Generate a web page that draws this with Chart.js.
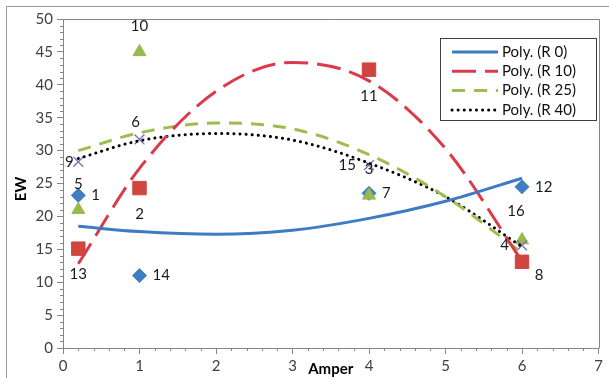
<!DOCTYPE html>
<html>
<head>
<meta charset="utf-8">
<script src="https://cdn.jsdelivr.net/npm/chart.js@4.4.1/dist/chart.umd.min.js"></script>
<style>
  html, body { margin: 0; padding: 0; background: #fff; }
  #wrap { position: relative; width: 609px; height: 378px; overflow: hidden; }
  #frame { position: absolute; left: 6px; top: 6px; width: 620px; height: 400px; border: 1px solid #9a9a9a; }
  canvas { position: absolute; left: 0; top: 0; }
</style>
</head>
<body>
<div id="wrap">
  <div id="frame"></div>
  <canvas id="chart" width="609" height="378"></canvas>
</div>
<script>
// Measured points (x = Amper, y = EW)
const xValues  = [0.2, 1, 4, 6];
const r0Values  = [23.2, 11.0, 23.5, 24.5];
const r10Values = [15.1, 24.3, 42.3, 13.1];
const r25Values = [21.0, 45.0, 23.2, 16.4];
const r40Values = [28.3, 31.7, 27.8, 15.6];

// Sample numbers shown next to each point
const r0Labels  = ['1', '14', '7', '12'];
const r10Labels = ['13', '2', '11', '8'];
const r25Labels = ['5', '10', '3', '16'];
const r40Labels = ['9', '6', '15', '4'];

// Polynomial trend lines
const trendX   = [0.2, 1, 2, 3, 4, 5, 6];
const trendR0  = [18.5, 17.7, 17.3, 17.9, 19.7, 22.3, 25.8];
const trendR10 = [12.8, 27.3, 39.0, 43.4, 40.6, 30.3, 13.2];
const trendR25 = [30.0, 32.7, 34.2, 33.3, 29.4, 23.0, 14.5];
const trendR40 = [28.8, 31.5, 32.6, 31.6, 28.1, 23.0, 15.4];

const legendNames = ['Poly. (R 0)', 'Poly. (R 10)', 'Poly. (R 25)', 'Poly. (R 40)'];

const FONT = 'Lato, "Liberation Sans", sans-serif';
const AXIS = '#868686';

const toPts = (xs, ys) => xs.map((x, i) => ({ x, y: ys[i] }));

function trend(label, ys, color, dash, cap) {
  return {
    type: 'line', label, data: toPts(trendX, ys),
    borderColor: color, borderWidth: 3, borderDash: dash, borderCapStyle: cap || 'butt',
    pointRadius: 0, fill: false, cubicInterpolationMode: 'monotone', order: 1,
  };
}

// later series sit on top of earlier ones, like in Excel (lower order = drawn last)
function marks(ys, labels, style, color, radius, place, order) {
  return {
    type: 'scatter', data: toPts(xValues, ys), sampleLabels: labels, labelPlace: place,
    pointStyle: style, pointRadius: radius, pointBackgroundColor: color,
    pointBorderColor: color, pointBorderWidth: style === 'crossRot' ? 1.3 : 1, order,
  };
}

// a few labels that were nudged by hand in the original
const labelOverride = { '6': 'above', '8': 'belowRight', '16': 'aboveLeft' };

const extrasPlugin = {
  id: 'extras',
  afterDraw(chart) {
    const { ctx, chartArea: a, scales: { x, y } } = chart;
    ctx.save();

    // plot frame (top/right) and minor ticks
    ctx.strokeStyle = AXIS; ctx.lineWidth = 1;
    ctx.beginPath();
    ctx.moveTo(Math.round(a.left) + 0.5, Math.round(a.top) + 0.5);
    ctx.lineTo(Math.round(a.right) + 0.5, Math.round(a.top) + 0.5);
    ctx.lineTo(Math.round(a.right) + 0.5, Math.round(a.bottom) + 0.5);
    for (let v = 1; v < 50; v++) {
      if (v % 5 === 0) continue;
      const py = Math.round(y.getPixelForValue(v)) + 0.5;
      ctx.moveTo(a.left - 3, py); ctx.lineTo(a.left, py);
    }
    for (let i = 1; i < 35; i++) {
      if (i % 5 === 0) continue;
      const px = Math.round(x.getPixelForValue(i / 5)) + 0.5;
      ctx.moveTo(px, a.bottom); ctx.lineTo(px, a.bottom + 3);
    }
    ctx.stroke();

    // sample labels
    ctx.fillStyle = '#1a1a1a';
    ctx.font = '15px ' + FONT;
    ctx.textBaseline = 'middle';
    chart.data.datasets.forEach((ds, di) => {
      if (!ds.sampleLabels) return;
      chart.getDatasetMeta(di).data.forEach((pt, i) => {
        const txt = ds.sampleLabels[i];
        const place = labelOverride[txt] || ds.labelPlace;
        const w = ctx.measureText(txt).width;
        let cx = pt.x, cy = pt.y;
        if (place === 'right') cx += 13 + w / 2;
        if (place === 'left') cx -= 13 + w / 2;
        if (place === 'below') cy += 26;
        if (place === 'above') cy -= 26;
        if (place === 'belowRight') { cx += 17; cy += 13; }
        if (place === 'aboveLeft') { cx -= 6; cy -= 29; }
        if (place === 'above' && ds.pointStyle === 'crossRot') { cx -= 4; cy += 9; }
        cx = Math.max(cx, a.left + 2 + w / 2);
        ctx.textAlign = 'center';
        ctx.fillText(txt, cx, cy);
      });
    });

    // axis titles
    ctx.font = 'bold 15px ' + FONT;
    ctx.fillStyle = '#000';
    ctx.textAlign = 'center';
    ctx.fillText('Amper', (a.left + a.right) / 2, 369);
    ctx.save();
    ctx.translate(21, 189);
    ctx.rotate(-Math.PI / 2);
    ctx.fillText('EW', 0, 0);
    ctx.restore();

    // legend box
    const lx = 440, ly = 38, lw = 156, lh = 82;
    ctx.fillStyle = '#fff';
    ctx.fillRect(lx, ly, lw, lh);
    ctx.strokeStyle = '#404040';
    ctx.strokeRect(lx + 0.5, ly + 0.5, lw, lh);
    const trends = chart.data.datasets.filter(d => d.type === 'line');
    ctx.font = '15px ' + FONT;
    ctx.textAlign = 'left';
    trends.forEach((d, i) => {
      const ry = 52 + i * 19.3;
      ctx.beginPath();
      ctx.strokeStyle = d.borderColor;
      ctx.lineWidth = 3;
      ctx.lineCap = d.borderCapStyle;
      ctx.setLineDash(d.borderDash);
      ctx.moveTo(452, ry); ctx.lineTo(498, ry);
      ctx.stroke();
      ctx.setLineDash([]);
      ctx.fillStyle = '#111';
      ctx.fillText(legendNames[i], 502, ry);
    });
    ctx.restore();
  }
};

new Chart(document.getElementById('chart'), {
  data: {
    datasets: [
      trend(legendNames[0], trendR0, '#3D7CC3', []),
      trend(legendNames[1], trendR10, '#DA3A4A', [24, 9]),
      trend(legendNames[2], trendR25, '#9DBD50', [13, 9]),
      trend(legendNames[3], trendR40, '#000000', [0.1, 6], 'round'),
      marks(r0Values, r0Labels, 'rectRot', '#3F7EC3', 7, 'right', 5),
      marks(r10Values, r10Labels, 'rect', '#D0453F', 9.5, 'below', 4),
      marks(r25Values, r25Labels, 'triangle', '#98B94E', 7.5, 'above', 3),
      marks(r40Values, r40Labels, 'crossRot', '#7A6BB0', 7, 'left', 2),
    ]
  },
  options: {
    responsive: false,
    animation: false,
    devicePixelRatio: 1,
    layout: { padding: { top: 19, right: 10, left: 0, bottom: 0 } },
    plugins: { legend: { display: false }, tooltip: { enabled: false } },
    scales: {
      x: {
        type: 'linear', min: 0, max: 7,
        afterFit: s => { s.height = 30; },
        ticks: { stepSize: 1, padding: 3, color: '#404040', font: { family: FONT, size: 15 } },
        grid: { drawOnChartArea: false, tickLength: 6, color: AXIS },
        border: { color: AXIS },
      },
      y: {
        min: 0, max: 50,
        afterFit: s => { s.width = 63; },
        ticks: { stepSize: 5, padding: 4, color: '#404040', font: { family: FONT, size: 15 } },
        grid: { drawOnChartArea: false, tickLength: 6, color: AXIS },
        border: { color: AXIS },
      }
    }
  },
  plugins: [extrasPlugin]
});
</script>
</body>
</html>
